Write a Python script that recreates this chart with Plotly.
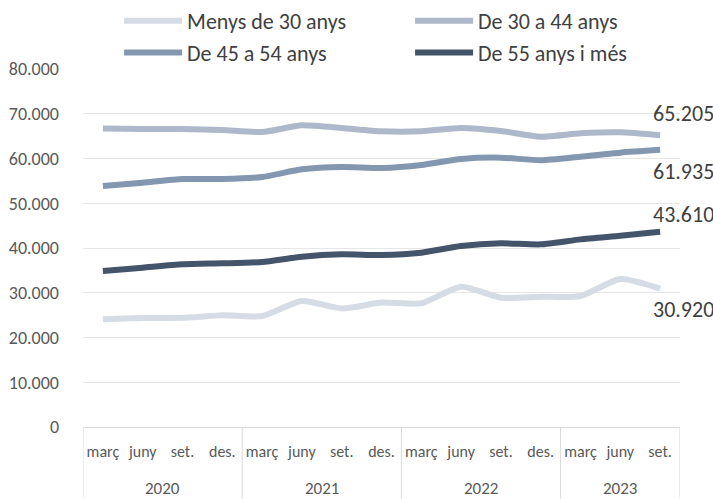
import plotly.graph_objects as go

years = ["2020"] * 4 + ["2021"] * 4 + ["2022"] * 4 + ["2023"] * 3
quarters = ["març", "juny", "set.", "des."] * 3 + ["març", "juny", "set."]

series_names = ["Menys de 30 anys", "De 30 a 44 anys", "De 45 a 54 anys", "De 55 anys i més"]
menys30 = [24100, 24350, 24400, 24950, 24800, 28150, 26500, 27800, 27650, 31350, 28900, 29100, 29270, 33070, 30920]
de30a44 = [66700, 66600, 66600, 66370, 65920, 67410, 66820, 66070, 66070, 66820, 66150, 64880, 65620, 65840, 65205]
de45a54 = [53860, 54600, 55420, 55420, 55870, 57580, 58100, 57880, 58550, 59890, 60190, 59600, 60410, 61310, 61935]
de55 = [34860, 35600, 36350, 36570, 36870, 38060, 38590, 38440, 38960, 40450, 41050, 40820, 41930, 42740, 43610]

y_ticks = [0, 10000, 20000, 30000, 40000, 50000, 60000, 70000, 80000]
y_tick_labels = ["0", "10.000", "20.000", "30.000", "40.000", "50.000", "60.000", "70.000", "80.000"]

colors = ["#d6dce5", "#adb9ca", "#8497b0", "#44546a"]
all_series = [menys30, de30a44, de45a54, de55]
label_shift = [-21, 22, -22, 17]

FONT = "Carlito, Calibri, 'Liberation Sans Narrow', 'Open Sans', sans-serif"
idx = list(range(len(quarters)))

fig = go.Figure()
for name, vals, col in zip(series_names, all_series, colors):
    fig.add_trace(go.Scatter(
        x=idx, y=vals, name=name, mode="lines",
        line=dict(color=col, width=6, shape="spline", smoothing=0.6),
        hoverinfo="skip",
    ))

def fmt(v):
    return f"{v:,}".replace(",", ".")

for vals, shift in zip(all_series, label_shift):
    fig.add_annotation(
        x=len(vals) - 1, y=vals[-1], xref="x", yref="y",
        text=fmt(vals[-1]), showarrow=False, xanchor="left", xshift=-9,
        yshift=shift, font=dict(family=FONT, size=22, color="#404040"),
    )

# year group labels and dividers
groups = []
for i, yv in enumerate(years):
    if not groups or groups[-1][0] != yv:
        groups.append([yv, i, i])
    else:
        groups[-1][2] = i
for yv, a, b in groups:
    fig.add_annotation(
        x=(a + b) / 2, y=-0.173, xref="x", yref="paper", text=yv,
        showarrow=False, yanchor="middle",
        font=dict(family=FONT, size=17, color="#595959"),
    )
bounds = [groups[0][1] - 0.5] + [g[2] + 0.5 for g in groups]
for bx in bounds:
    fig.add_shape(type="line", x0=bx, x1=bx, y0=0, y1=-0.2, xref="x", yref="paper",
                  line=dict(color="#d9d9d9", width=1))

fig.update_layout(
    width=713, height=499,
    margin=dict(l=83, r=33, t=69, b=72, autoexpand=False),
    paper_bgcolor="white", plot_bgcolor="white",
    font=dict(family=FONT, color="#595959"),
    showlegend=True,
    legend=dict(
        orientation="h", xref="container", yref="container",
        x=0.167, y=1.0, xanchor="left", yanchor="top",
        entrywidth=218, entrywidthmode="pixels",
        font=dict(family=FONT, size=22, color="#404040"),
        itemwidth=58, tracegroupgap=0, bgcolor="rgba(0,0,0,0)",
    ),
)
fig.update_yaxes(
    range=[0, 80000], tickvals=y_ticks, ticktext=y_tick_labels,
    showgrid=True, gridcolor="#e6e6e6", gridwidth=1, zeroline=False,
    tickfont=dict(family=FONT, size=18, color="#595959"),
    ticklabelstandoff=23, showline=False,
)
fig.update_xaxes(
    range=[-0.5, len(quarters) - 0.5], tickvals=idx, ticktext=quarters,
    showgrid=False, showline=True, linecolor="#d9d9d9", linewidth=1,
    zeroline=False, ticks="", ticklabelstandoff=10,
    tickfont=dict(family=FONT, size=16, color="#595959"),
)

fig.write_html("out.html", config={"displayModeBar": False},
               post_script="document.body.style.margin='0';")
